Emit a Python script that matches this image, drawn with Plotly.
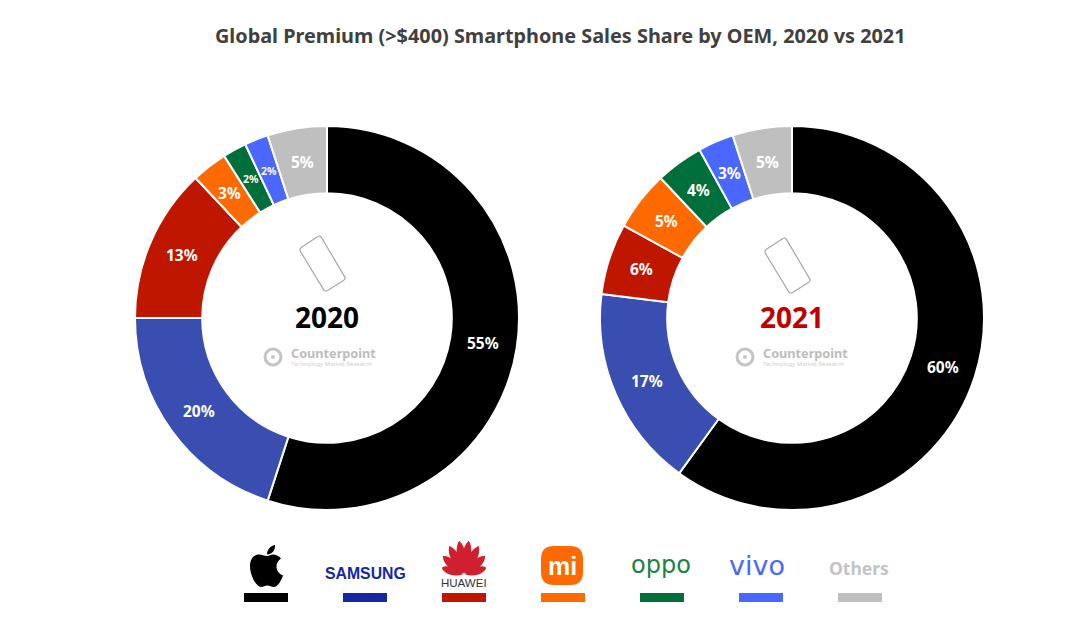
import math
import re
import plotly.graph_objects as go

W, H = 1080, 625
TITLE = "Global Premium (>$400) Smartphone Sales Share by OEM, 2020 vs 2021"
OEMS = ["Apple", "Samsung", "Huawei", "Xiaomi", "OPPO", "vivo", "Others"]
SHARE_2020 = [55, 20, 13, 3, 2, 2, 5]
SHARE_2021 = [60, 17, 6, 5, 4, 3, 5]
SLICE_COLORS = ["#000000", "#3a4db0", "#bf1600", "#ff6a00", "#006f3c", "#4a68ff", "#bfbfbf"]
SWATCH_COLORS = ["#000000", "#1428a0", "#bf1600", "#ff6a00", "#006f3c", "#4a68ff", "#bfbfbf"]
FONT = "Noto Sans"
CY, R_OUT, HOLE = 318, 192, 0.65


def px(x):
    return x / W


def py(y):
    return 1 - y / H


def conv(path):
    """Turn a path written in pixels into paper coordinates."""
    toks = re.findall(r"[A-Za-z]|-?\d+\.?\d*", path)
    out, isx = [], True
    for t in toks:
        if t.isalpha():
            out.append(t)
            isx = True
        else:
            out.append(f"{px(float(t)) if isx else py(float(t)):.5f}")
            isx = not isx
    res, i = [], 0
    while i < len(out):
        if out[i].isalpha():
            res.append(out[i])
            i += 1
        else:
            res.append(out[i] + "," + out[i + 1])
            i += 2
    return " ".join(res)


def path_shape(d, fill=None, line=None, lw=0):
    return dict(type="path", xref="paper", yref="paper", path=conv(d),
                fillcolor=fill or "rgba(0,0,0,0)",
                line=dict(color=line or "rgba(0,0,0,0)", width=lw), layer="above")


def rect(x0, y0, x1, y1, fill):
    return dict(type="rect", xref="paper", yref="paper", x0=px(x0), x1=px(x1),
                y0=py(y1), y1=py(y0), fillcolor=fill, line=dict(width=0))


def txt(x, y, s, size, color, bold=False, anchor="center", family=FONT):
    return dict(xref="paper", yref="paper", x=px(x), y=py(y), text=f"<b>{s}</b>" if bold else s,
                showarrow=False, xanchor=anchor, yanchor="middle",
                font=dict(size=size, color=color, family=family))


def rounded_poly(pts, r):
    n = len(pts)
    d = ""
    for i in range(n):
        p, c, q = pts[i - 1], pts[i], pts[(i + 1) % n]

        def toward(a, b):
            L = math.dist(a, b)
            return (a[0] + (b[0] - a[0]) * r / L, a[1] + (b[1] - a[1]) * r / L)
        a, b = toward(c, p), toward(c, q)
        d += f"{'M' if i == 0 else 'L'} {a[0]:.2f} {a[1]:.2f} Q {c[0]:.2f} {c[1]:.2f} {b[0]:.2f} {b[1]:.2f} "
    return d + "Z"


def phone(dx, dy):
    pts = [(299 + dx, 249 + dy), (320 + dx, 235 + dy), (346 + dx, 279 + dy), (325 + dx, 292 + dy)]
    return path_shape(rounded_poly(pts, 3), None, "#a8a8a8", 1.2)


def counterpoint(cx, cy):
    return [
        dict(type="circle", xref="paper", yref="paper", x0=px(cx - 8), x1=px(cx + 8),
             y0=py(cy + 8), y1=py(cy - 8), line=dict(color="#c4c4c4", width=3),
             fillcolor="rgba(0,0,0,0)"),
        dict(type="circle", xref="paper", yref="paper", x0=px(cx - 2), x1=px(cx + 2),
             y0=py(cy + 2), y1=py(cy - 2), line=dict(width=0), fillcolor="#c4c4c4"),
    ]


def apple(x, y):
    def tr(s):
        out, isx = [], True
        for t in re.findall(r"[A-Za-z]|-?\d+\.?\d*", s):
            if t.isalpha():
                out.append(t)
                isx = True
            else:
                out.append(f"{float(t) + (x if isx else y):.2f}")
                isx = not isx
        return " ".join(out)
    body = ("M 17 11 C 14 11 12 9.5 9 9.5 C 4 9.5 0 14 0 21 C 0 30 6 42 11 42 C 13.5 42 15 40.5 17.5 40.5 "
            "C 20 40.5 21 42 24 42 C 28 42 31.5 35 33 30.5 C 29 29 26.5 25.5 26.5 21.5 C 26.5 18 28.5 15 31 13.5 "
            "C 28.5 10.5 25.5 9.5 23 9.5 C 21 9.5 19 11 17 11 Z")
    leaf = "M 17 9.5 C 17 5 20 1 25 0 C 25.5 5 22 9.5 17 9.5 Z"
    return [path_shape(tr(body), "#000000"), path_shape(tr(leaf), "#000000")]


def huawei(cx, by):
    shapes = []
    for ang, L, w in [(-72, 22, 4), (-48, 27, 4.5), (-27, 31, 4.5), (-8, 33, 4.5),
                      (8, 33, 4.5), (27, 31, 4.5), (48, 27, 4.5), (72, 22, 4)]:
        a = math.radians(ang)
        ux, uy = math.sin(a), -math.cos(a)
        vx, vy = -uy, ux
        bx, byy = cx + ux * 1.5, by + uy * 1.5

        def P(t, s):
            return f"{bx + ux * t + vx * s:.2f} {byy + uy * t + vy * s:.2f}"
        d = (f"M {P(0, 0)} C {P(L * .35, w * 1.3)} {P(L * .8, w * 1.3)} {P(L, 0)} "
             f"C {P(L * .8, -w * 1.3)} {P(L * .35, -w * 1.3)} {P(0, 0)} Z")
        shapes.append(path_shape(d, "#d0202f"))
    return shapes


def slice_labels(vals, cx):
    """Percent labels at the middle of each ring segment."""
    r = R_OUT * (1 + HOLE) / 2
    out, cum, total = [], 0, sum(vals)
    for v in vals:
        a = 2 * math.pi * (cum + v / 2) / total
        cum += v
        out.append(txt(cx + r * math.sin(a), CY - r * math.cos(a), f"{v}%",
                       10.5 if v == 2 else 15.5, "#ffffff", True))
    return out


pies = []
for vals, cx in [(SHARE_2020, 327), (SHARE_2021, 792)]:
    pies.append(go.Pie(
        labels=OEMS, values=vals, sort=False, direction="clockwise", rotation=0, hole=HOLE,
        domain=dict(x=[px(cx - R_OUT), px(cx + R_OUT)], y=[py(CY + R_OUT), py(CY - R_OUT)]),
        marker=dict(colors=SLICE_COLORS, line=dict(color="#ffffff", width=2)),
        textinfo="none", hoverinfo="label+value", showlegend=False,
    ))

shapes = [rect(244 + 99 * i, 593, 288 + 99 * i, 602, c) for i, c in enumerate(SWATCH_COLORS)]
shapes += [phone(0, 0), phone(465, 2)]
shapes += counterpoint(273, 357) + counterpoint(745, 357)
shapes += apple(250, 545)
shapes += huawei(464, 575)
shapes.append(dict(type="path", xref="paper", yref="paper", fillcolor="#ff6a00", line=dict(width=0),
                   path=conv(rounded_poly([(541, 546), (583, 546), (583, 585), (541, 585)], 13))))

annotations = [
    txt(560, 35, TITLE, 19.85, "#404040", True),
    txt(326.5, 317, "2020", 28, "#000000", True),
    txt(792, 317, "2021", 28, "#c00000", True),
    txt(288.5, 353, "Counterpoint", 12.7, "#bdbdbd", True, "left"),
    txt(288.5, 364, "Technology Market Research", 6, "#d0d0d0", False, "left"),
    txt(760.5, 353, "Counterpoint", 12.7, "#bdbdbd", True, "left"),
    txt(760.5, 364, "Technology Market Research", 6, "#d0d0d0", False, "left"),
    txt(365, 573, "SAMSUNG", 15.8, "#1428a0", True, family="Liberation Sans"),
    txt(464, 583, "HUAWEI", 11.5, "#333333", False, family="Liberation Sans"),
    txt(562, 566, "mi", 25, "#ffffff", True, family="Liberation Sans"),
    txt(661, 565, "oppo", 24, "#1f7f46", False, family="DejaVu Sans"),
    txt(757, 565, "vivo", 27, "#4a68ff", False, family="DejaVu Sans"),
    txt(859, 568, "Others", 17.5, "#c4c4c4", True),
]
annotations += slice_labels(SHARE_2020, 327) + slice_labels(SHARE_2021, 792)

fig = go.Figure(pies)
fig.update_layout(width=W, height=H, margin=dict(l=0, r=0, t=0, b=0), paper_bgcolor="#ffffff",
                  plot_bgcolor="#ffffff", shapes=shapes, annotations=annotations,
                  font=dict(family=FONT))
fig.write_html("out.html", config={"displayModeBar": False},
               post_script="document.body.style.margin='0';document.documentElement.style.overflow='hidden';")
